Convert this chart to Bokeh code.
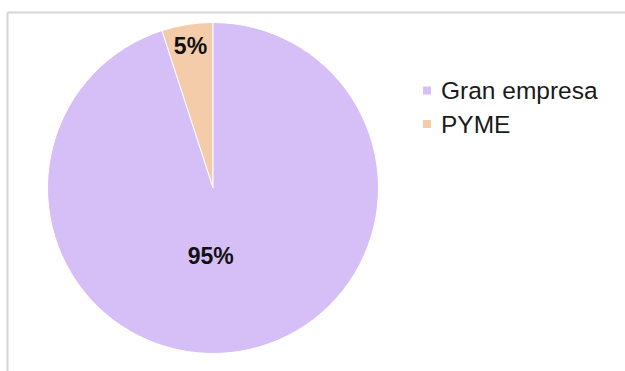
import math
from bokeh.plotting import figure
from bokeh.models import Range1d, ColumnDataSource
from bokeh.core.properties import value
from bokeh.embed import file_html
from bokeh.resources import INLINE

# ---- data ----
categories = ["Gran empresa", "PYME"]
shares = [95, 5]
colors = ["#d6bef6", "#f5cca9"]

W, H = 625, 371
p = figure(width=W, height=H, output_backend="svg", toolbar_location=None,
           x_range=Range1d(0, W), y_range=Range1d(0, H), min_border=0)
p.axis.visible = False
p.grid.visible = False
p.outline_line_color = None
p.background_fill_color = "white"
p.border_fill_color = "white"

def Y(py):
    return H - py

# frame border (left and top)
p.segment(x0=[7, 7], y0=[Y(12), Y(12)], x1=[7, W + 5], y1=[Y(H + 5), Y(12)],
          line_color="#d4d4d4", line_width=2)

# pie geometry
cx, cy, r = 212.5, Y(187.5), 165.5
total = sum(shares)
# PYME drawn first counter-clockwise from top, then Gran empresa
order = [1, 0]
start = math.pi / 2
starts, ends, cols = [], [], []
mids = {}
for i in order:
    frac = shares[i] / total
    a0, a1 = start, start + frac * 2 * math.pi
    starts.append(a0); ends.append(a1); cols.append(colors[i])
    mids[i] = (a0 + a1) / 2
    start = a1

src = ColumnDataSource(dict(x=[cx] * len(order), y=[cy] * len(order),
                            s=starts, e=ends, c=cols))
p.wedge(x="x", y="y", radius=r, start_angle="s", end_angle="e",
        fill_color="c", line_color="white", line_width=1, source=src)

# percentage labels
label_r = {0: 0.413, 1: 0.87}
label_da = {0: -0.19, 1: 0.0}
lx, ly, lt = [], [], []
for i in range(len(categories)):
    a = mids[i] + label_da[i]
    lx.append(cx + label_r[i] * r * math.cos(a))
    ly.append(cy + label_r[i] * r * math.sin(a))
    lt.append(f"{round(100 * shares[i] / total)}%")
p.text(x=lx, y=ly, text=lt, text_align="center", text_baseline="middle",
       text_font=value("Liberation Sans"), text_font_style="bold",
       text_font_size="23px", text_color="#111111")

# legend
leg_x, leg_y0, leg_dy = 426.5, 90, 33.5
p.scatter(x=[leg_x] * len(categories),
          y=[Y(leg_y0 + k * leg_dy) for k in range(len(categories))],
          marker="square", size=8, fill_color=colors, line_color=None)
p.text(x=[leg_x + 14] * len(categories),
       y=[Y(leg_y0 + k * leg_dy) for k in range(len(categories))],
       text=categories, text_align="left", text_baseline="middle",
       text_font=value("Liberation Sans"), text_font_size="24.5px",
       text_color="#1a1a1a")

open("out.html", "w").write(file_html(p, INLINE))
